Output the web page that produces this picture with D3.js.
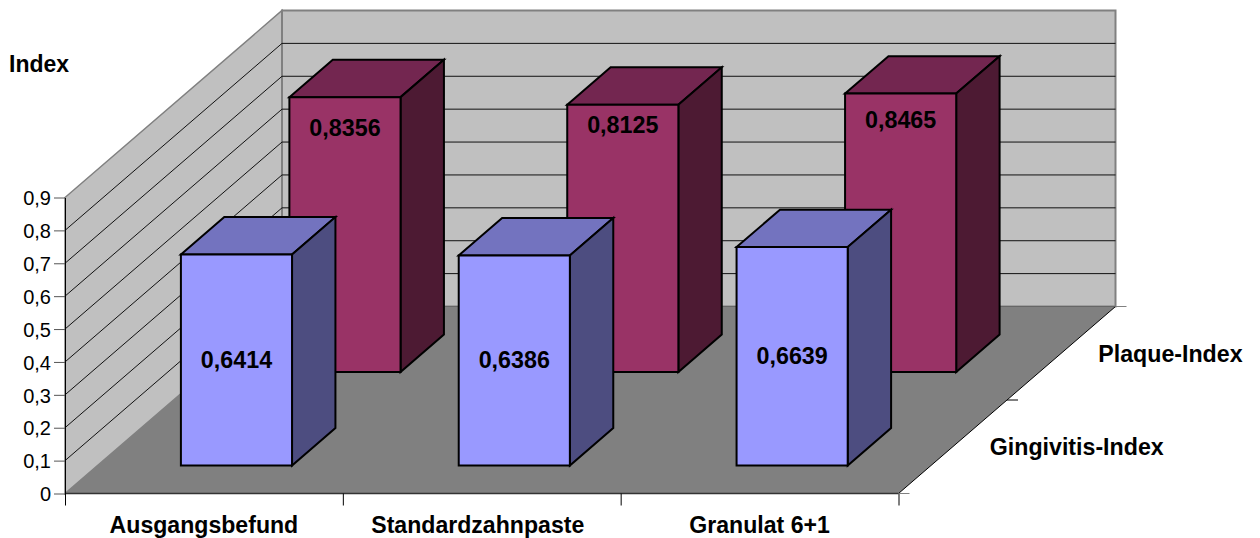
<!DOCTYPE html>
<html>
<head>
<meta charset="utf-8">
<script src="https://cdnjs.cloudflare.com/ajax/libs/d3/7.8.5/d3.min.js"></script>
<style>
    body { margin: 0; background: #fff; }
    text { font-family: "Liberation Sans", Arial, sans-serif; fill: #000; }
</style>
</head>
<body>
<div id="chart"></div>
<script>
// Data
const categories = ["Ausgangsbefund", "Standardzahnpaste", "Granulat 6+1"];
const seriesNames = ["Gingivitis-Index", "Plaque-Index"];
const gingivitis = [0.6414, 0.6386, 0.6639];
const plaque = [0.8356, 0.8125, 0.8465];
const yTicks = [0, 0.1, 0.2, 0.3, 0.4, 0.5, 0.6, 0.7, 0.8, 0.9];

// Colours: front face, top face, side face
const colors = {
    "Gingivitis-Index": ["#9999ff", "#7373bf", "#4d4d80"],
    "Plaque-Index": ["#993366", "#732650", "#4d1a33"]
};

const svg = d3.select("#chart")
    .append("svg")
    .attr("width", 1260)
    .attr("height", 538)
    .style("display", "block");

// Oblique projection: the floor corner, and how far the depth axis shifts things
const originX = 65, originY = 493.5;
const depthX = 217, depthY = -187;

const x = d3.scaleBand().domain(categories).range([0, 833.5]).paddingInner(0.6).paddingOuter(0.3);
const y = d3.scaleLinear().domain([0, 0.9]).range([0, 296]);
const z = d3.scaleBand().domain(seriesNames).range([0, 1]).paddingInner(0.6).paddingOuter(0.3);
const xEdge = d3.scaleLinear().domain([0, 3]).range([0, 833.5]);

// px = pixels along the category axis, h = pixels up, d = depth 0..1
const project = (px, h, d) => [originX + px + depthX * d, originY - h + depthY * d];
const poly = pts => "M" + pts.map(p => p.join(",")).join("L") + "Z";

const W = x.range()[1], H = y(0.9);

// Left wall, back wall, floor
svg.append("path")
    .attr("d", poly([project(0, 0, 0), project(0, H, 0), project(0, H, 1), project(0, 0, 1)]))
    .attr("fill", "#c0c0c0").attr("stroke", "#808080").attr("stroke-width", 1.5);
svg.append("path")
    .attr("d", poly([project(0, 0, 1), project(0, H, 1), project(W, H, 1), project(W, 0, 1)]))
    .attr("fill", "#c0c0c0").attr("stroke", "#808080").attr("stroke-width", 2);

// Gridlines along both walls
const gridPath = d => {
    const h = y(d);
    return "M" + [project(0, h, 0), project(0, h, 1), project(W, h, 1)].map(p => p.join(",")).join("L");
};
svg.selectAll(".grid")
    .data(yTicks.filter(d => d > 0 && d < 0.9))
    .enter().append("path")
    .attr("class", "grid")
    .attr("d", gridPath)
    .attr("fill", "none")
    .attr("stroke", "#111")
    .attr("stroke-width", 1);

svg.append("path")
    .attr("d", poly([project(0, 0, 0), project(W, 0, 0), project(W, 0, 1), project(0, 0, 1)]))
    .attr("fill", "#808080");

// Floor edges
svg.append("path")
    .attr("d", "M" + [project(0, 0, 0), project(W, 0, 0)].map(p => p.join(",")).join("L"))
    .attr("stroke", "#333").attr("stroke-width", 1.5).attr("fill", "none");
svg.append("path")
    .attr("d", "M" + [project(W, 0, 0), project(W, 0, 1)].map(p => p.join(",")).join("L"))
    .attr("stroke", "#000").attr("stroke-width", 1).attr("fill", "none");
svg.append("path")
    .attr("d", "M" + [project(0, 0, 1), project(W, 0, 1)].map(p => p.join(",")).join("L"))
    .attr("stroke", "#666").attr("stroke-width", 1).attr("fill", "none");

// Bars, back row first so the front row covers it
const rows = [
    { name: "Plaque-Index", values: plaque, labelDrop: [31, 20, 26.8] },
    { name: "Gingivitis-Index", values: gingivitis, labelDrop: null }
];

rows.forEach(row => {
    const [front, top, side] = colors[row.name];
    const d0 = z(row.name), d1 = d0 + z.bandwidth();

    const bars = svg.selectAll(null)
        .data(categories.map((c, i) => ({ category: c, value: row.values[i], drop: row.labelDrop && row.labelDrop[i] })))
        .enter().append("g");

    bars.append("path")
        .attr("d", d => {
            const a = x(d.category), b = a + x.bandwidth(), h = y(d.value);
            return poly([project(a, h, d0), project(b, h, d0), project(b, h, d1), project(a, h, d1)]);
        })
        .attr("fill", top);
    bars.append("path")
        .attr("d", d => {
            const b = x(d.category) + x.bandwidth(), h = y(d.value);
            return poly([project(b, 0, d0), project(b, h, d0), project(b, h, d1), project(b, 0, d1)]);
        })
        .attr("fill", side);
    bars.append("path")
        .attr("d", d => {
            const a = x(d.category), b = a + x.bandwidth(), h = y(d.value);
            return poly([project(a, 0, d0), project(b, 0, d0), project(b, h, d0), project(a, h, d0)]);
        })
        .attr("fill", front);
    bars.selectAll("path")
        .attr("stroke", "#000").attr("stroke-width", 2).attr("stroke-linejoin", "miter");

    // Value labels: middle of the face, or a set drop below the top for the back row
    bars.append("text")
        .attr("x", d => project(x(d.category) + x.bandwidth() / 2, 0, d0)[0])
        .attr("y", d => {
            const h = y(d.value);
            return d.drop === null ? project(0, h / 2, d0)[1] : project(0, h, d0)[1] + d.drop;
        })
        .attr("dy", "0.34em")
        .attr("text-anchor", "middle")
        .attr("font-size", "23.3px")
        .attr("font-weight", "bold")
        .text(d => String(d.value).replace(".", ","));
});

// Y axis
const yAxisScale = d3.scaleLinear().domain([0, 0.9]).range([originY, originY - H]);
const yAxis = svg.append("g")
    .attr("transform", `translate(${originX},0)`)
    .call(d3.axisLeft(yAxisScale).tickValues(yTicks).tickSize(11).tickSizeOuter(0)
        .tickFormat(d => d === 0 ? "0" : d3.format(".1f")(d).replace(".", ",")));
yAxis.select(".domain").attr("stroke", "#000").attr("stroke-width", 1);
yAxis.selectAll(".tick line").attr("stroke", "#555");
yAxis.selectAll(".tick text")
    .attr("font-size", "20px")
    .attr("font-family", "Liberation Sans")
    .attr("dy", "0.36em")
    .attr("x", -14);

// Category axis ticks sit between the categories
const xAxis = svg.append("g")
    .attr("transform", `translate(${originX},${originY})`)
    .call(d3.axisBottom(xEdge).tickValues([0, 1, 2, 3]).tickSize(12).tickFormat(""));
xAxis.select(".domain").remove();
xAxis.selectAll(".tick line").attr("stroke", "#000");

const catNudge = [0, -4, 0];
svg.selectAll(".cat")
    .data(categories)
    .enter().append("text")
    .attr("class", "cat")
    .attr("x", (d, i) => originX + x(d) + x.bandwidth() / 2 + catNudge[i])
    .attr("y", 533)
    .attr("text-anchor", "middle")
    .attr("font-size", "23.1px")
    .attr("font-weight", "bold")
    .text(d => d);

// Depth axis ticks at the floor's right edge
const depthTicks = [0, 0.5, 1];
svg.selectAll(".dtick")
    .data(depthTicks)
    .enter().append("line")
    .attr("class", "dtick")
    .attr("x1", d => project(W, 0, d)[0])
    .attr("x2", d => project(W, 0, d)[0] + 11)
    .attr("y1", d => project(W, 0, d)[1])
    .attr("y2", d => project(W, 0, d)[1])
    .attr("stroke", d => d === 0.5 ? "#000" : "#808080");

svg.selectAll(".serieslabel")
    .data(seriesNames)
    .enter().append("text")
    .attr("class", "serieslabel")
    .attr("x", d => project(W, 0, z(d) + z.bandwidth() / 2)[0] + 37)
    .attr("y", d => project(W, 0, z(d) + z.bandwidth() / 2)[1] + 8.5)
    .attr("font-size", "23.2px")
    .attr("font-weight", "bold")
    .text(d => d);

// Y axis title
svg.append("text")
    .attr("x", 9)
    .attr("y", 72)
    .attr("font-size", "23px")
    .attr("font-weight", "bold")
    .text("Index");
</script>
</body>
</html>
